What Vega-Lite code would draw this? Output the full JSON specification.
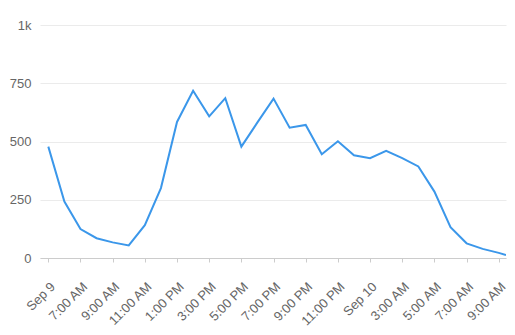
{
  "$schema": "https://vega.github.io/schema/vega-lite/v6.json",
  "width": 466,
  "height": 233,
  "autosize": {"type": "none"},
  "padding": {"left": 40, "top": 25, "right": 9, "bottom": 77},
  "background": "white",
  "config": {"view": {"stroke": null}, "font": "Liberation Sans"},
  "data": {"values": [
    {"t": "2024-09-09T05:00", "v": 478},
    {"t": "2024-09-09T06:00", "v": 242},
    {"t": "2024-09-09T07:00", "v": 124},
    {"t": "2024-09-09T08:00", "v": 85},
    {"t": "2024-09-09T09:00", "v": 67},
    {"t": "2024-09-09T10:00", "v": 54},
    {"t": "2024-09-09T11:00", "v": 141},
    {"t": "2024-09-09T12:00", "v": 300},
    {"t": "2024-09-09T13:00", "v": 584},
    {"t": "2024-09-09T14:00", "v": 718},
    {"t": "2024-09-09T15:00", "v": 608},
    {"t": "2024-09-09T16:00", "v": 686},
    {"t": "2024-09-09T17:00", "v": 478},
    {"t": "2024-09-09T18:00", "v": 582},
    {"t": "2024-09-09T19:00", "v": 684},
    {"t": "2024-09-09T20:00", "v": 559},
    {"t": "2024-09-09T21:00", "v": 571},
    {"t": "2024-09-09T22:00", "v": 445},
    {"t": "2024-09-09T23:00", "v": 501},
    {"t": "2024-09-10T00:00", "v": 441},
    {"t": "2024-09-10T01:00", "v": 428},
    {"t": "2024-09-10T02:00", "v": 460},
    {"t": "2024-09-10T03:00", "v": 429},
    {"t": "2024-09-10T04:00", "v": 393},
    {"t": "2024-09-10T05:00", "v": 285},
    {"t": "2024-09-10T06:00", "v": 132},
    {"t": "2024-09-10T07:00", "v": 63},
    {"t": "2024-09-10T08:00", "v": 39},
    {"t": "2024-09-10T09:00", "v": 22},
    {"t": "2024-09-10T09:27", "v": 13}
  ]},
  "mark": {"type": "line", "color": "#3b97ea", "strokeWidth": 2, "clip": true},
  "encoding": {
    "x": {
      "field": "t",
      "type": "temporal",
      "title": null,
      "scale": {"domain": [
        {"year": 2024, "month": 9, "date": 9, "hours": 4, "minutes": 29},
        {"year": 2024, "month": 9, "date": 10, "hours": 9, "minutes": 27}
      ]},
      "axis": {
        "values": [
          {"year": 2024, "month": 9, "date": 9, "hours": 5},
          {"year": 2024, "month": 9, "date": 9, "hours": 7},
          {"year": 2024, "month": 9, "date": 9, "hours": 9},
          {"year": 2024, "month": 9, "date": 9, "hours": 11},
          {"year": 2024, "month": 9, "date": 9, "hours": 13},
          {"year": 2024, "month": 9, "date": 9, "hours": 15},
          {"year": 2024, "month": 9, "date": 9, "hours": 17},
          {"year": 2024, "month": 9, "date": 9, "hours": 19},
          {"year": 2024, "month": 9, "date": 9, "hours": 21},
          {"year": 2024, "month": 9, "date": 9, "hours": 23},
          {"year": 2024, "month": 9, "date": 10, "hours": 1},
          {"year": 2024, "month": 9, "date": 10, "hours": 3},
          {"year": 2024, "month": 9, "date": 10, "hours": 5},
          {"year": 2024, "month": 9, "date": 10, "hours": 7},
          {"year": 2024, "month": 9, "date": 10, "hours": 9}
        ],
        "labelExpr": "date(datum.value) == 9 && hours(datum.value) == 5 ? 'Sep 9' : (date(datum.value) == 10 && hours(datum.value) == 1 ? 'Sep 10' : timeFormat(datum.value, '%-I:%M %p'))",
        "labelAngle": -45,
        "labelAlign": "right",
        "labelBaseline": "top",
        "labelFontSize": 13,
        "labelColor": "#666666",
        "labelPadding": 18,
        "labelOverlap": false,
        "labelFlush": false,
        "grid": false,
        "domainColor": "#cccccc",
        "tickColor": "#cccccc",
        "tickSize": 4
      }
    },
    "y": {
      "field": "v",
      "type": "quantitative",
      "title": null,
      "scale": {"domain": [0, 1000], "nice": false},
      "axis": {
        "values": [0, 250, 500, 750, 1000],
        "labelExpr": "datum.value >= 1000 ? '1k' : format(datum.value, 'd')",
        "domain": false,
        "ticks": false,
        "labelFontSize": 13,
        "labelColor": "#666666",
        "labelPadding": 9,
        "gridColor": "#ebebeb"
      }
    }
  }
}
